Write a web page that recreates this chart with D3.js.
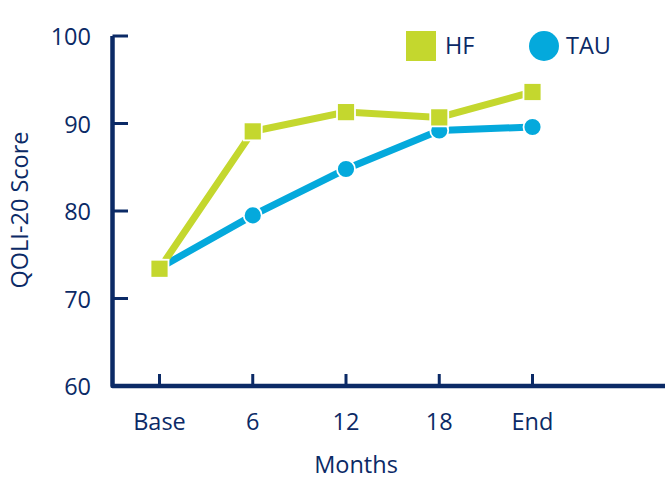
<!DOCTYPE html>
<html>
<head>
<meta charset="utf-8">
<script src="https://cdn.jsdelivr.net/npm/d3@7"></script>
<style>
  html, body { margin: 0; padding: 0; background: #fff; }
  svg { display: block; }
  text { font-family: "Open Sans", sans-serif; fill: #0b2a66; }
</style>
</head>
<body>
<svg id="chart" width="665" height="480"></svg>
<script>
// Time points and QOLI-20 scores per group
const months = ["Base", "6", "12", "18", "End"];
const hfScores = [73.4, 89.1, 91.3, 90.7, 93.6];
const tauScores = [73.5, 79.5, 84.8, 89.2, 89.6];
const yTicks = [60, 70, 80, 90, 100];

const navy = "#0b2a66";
const green = "#c4d72e";
const blue = "#04a9dc";

const svg = d3.select("#chart");

const x = d3.scalePoint().domain(months).range([159.5, 532.5]);
const y = d3.scaleLinear().domain([60, 100]).range([386, 36]);

// Axes: ticks point inward, drawn as lines
const axisG = svg.append("g");

axisG.selectAll("line.ytick").data(yTicks).join("line")
  .attr("x1", 112.5).attr("x2", 128)
  .attr("y1", d => y(d)).attr("y2", d => y(d))
  .attr("stroke", navy).attr("stroke-width", 3);

axisG.selectAll("line.xtick").data(months).join("line")
  .attr("x1", d => x(d)).attr("x2", d => x(d))
  .attr("y1", 386).attr("y2", 374)
  .attr("stroke", navy).attr("stroke-width", 3);

axisG.append("path")
  .attr("d", `M112.5,${y(100)}V386H665`)
  .attr("fill", "none").attr("stroke", navy).attr("stroke-width", 4.5)
  .attr("stroke-linejoin", "round");

axisG.selectAll("text.ylab").data(yTicks).join("text")
  .attr("x", 91).attr("y", d => y(d))
  .attr("text-anchor", "end").attr("dominant-baseline", "central")
  .attr("font-size", 23.5)
  .text(d => d);

axisG.selectAll("text.xlab").data(months).join("text")
  .attr("x", d => x(d)).attr("y", 430)
  .attr("text-anchor", "middle")
  .attr("font-size", 23.5)
  .text(d => d);

svg.append("text")
  .attr("x", 356).attr("y", 473)
  .attr("text-anchor", "middle").attr("font-size", 23.5)
  .text("Months");

svg.append("text")
  .attr("transform", "translate(28,210) rotate(-90)")
  .attr("text-anchor", "middle").attr("font-size", 23.5)
  .text("QOLI-20 Score");

const line = d3.line().x((d, i) => x(months[i])).y(d => y(d));

// TAU series (drawn first, beneath HF)
svg.append("path").datum(tauScores)
  .attr("d", line).attr("fill", "none")
  .attr("stroke", blue).attr("stroke-width", 7);

svg.append("path").datum(hfScores)
  .attr("d", line).attr("fill", "none")
  .attr("stroke", green).attr("stroke-width", 7);

svg.selectAll("circle.tau").data(tauScores).join("circle")
  .attr("cx", (d, i) => x(months[i])).attr("cy", d => y(d))
  .attr("r", 9)
  .attr("fill", blue).attr("stroke", "#fff").attr("stroke-width", 1.8);

const sq = 18;
svg.selectAll("rect.hf").data(hfScores).join("rect")
  .attr("x", (d, i) => x(months[i]) - sq / 2).attr("y", d => y(d) - sq / 2)
  .attr("width", sq).attr("height", sq)
  .attr("fill", green).attr("stroke", "#fff").attr("stroke-width", 1.8);

// Legend
const legend = svg.append("g");
legend.append("rect")
  .attr("x", 406).attr("y", 31).attr("width", 30).attr("height", 30)
  .attr("fill", green);
legend.append("text")
  .attr("x", 445).attr("y", 54).attr("font-size", 23.5)
  .text("HF");
legend.append("circle")
  .attr("cx", 544).attr("cy", 46).attr("r", 15)
  .attr("fill", blue);
legend.append("text")
  .attr("x", 566).attr("y", 54).attr("font-size", 23.5)
  .text("TAU");
</script>
</body>
</html>
